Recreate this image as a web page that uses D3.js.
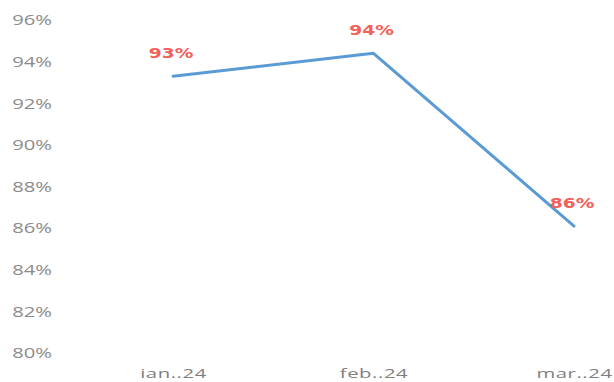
<!DOCTYPE html>
<html>
<head>
<meta charset="utf-8">
<script src="https://cdn.jsdelivr.net/npm/d3@7/dist/d3.min.js"></script>
<style>
  html, body { margin: 0; padding: 0; background: #fff; }
  svg { display: block; }
</style>
</head>
<body>
<svg id="chart" width="614" height="382"></svg>
<script>
// Monthly values (share, 0-1)
const months = ["ian..24", "feb..24", "mar..24"];
const values = [0.933, 0.944, 0.861];
const yTicks = [0.80, 0.82, 0.84, 0.86, 0.88, 0.90, 0.92, 0.94, 0.96];

const svg = d3.select("#chart");

const x = d3.scalePoint().domain(months).range([173, 574]);
const y = d3.scaleLinear().domain([0.80, 0.96]).range([353, 20]);

const pct = d3.format(".0%");

// Y axis labels only (no line, no ticks); glyphs drawn wide
const yAxis = svg.append("g")
  .attr("transform", "translate(52,0)")
  .call(d3.axisLeft(y).tickValues(yTicks).tickFormat(pct).tickSize(0).tickPadding(0));
yAxis.select(".domain").remove();
yAxis.selectAll("text")
  .attr("x", 0)
  .attr("transform", "scale(1.35,1)")
  .attr("fill", "#8c8c8c")
  .style("font-family", "'Open Sans', sans-serif")
  .style("font-size", "15px");

// X axis labels
const xAxis = svg.append("g")
  .attr("transform", "translate(0,378)")
  .call(d3.axisBottom(x).tickSize(0).tickPadding(0));
xAxis.select(".domain").remove();
xAxis.selectAll("text")
  .attr("y", 0)
  .attr("dy", 0)
  .attr("transform", "scale(1.5,1)")
  .attr("fill", "#808080")
  .style("font-family", "'Open Sans', sans-serif")
  .style("font-size", "13.5px")
  .style("letter-spacing", "0.4px");

// Series line
const line = d3.line()
  .x((d, i) => x(months[i]))
  .y(d => y(d));

svg.append("path")
  .datum(values)
  .attr("d", line)
  .attr("fill", "none")
  .attr("stroke", "#5b9bd5")
  .attr("stroke-width", 3)
  .attr("stroke-linejoin", "round")
  .attr("stroke-linecap", "round");

// Value labels above each point
svg.append("g").selectAll("g")
  .data(values)
  .join("g")
  .attr("transform", (d, i) => `translate(${x(months[i]) - 2},${y(d) - 18})`)
  .append("text")
  .attr("transform", "scale(1.33,1)")
  .attr("text-anchor", "middle")
  .attr("fill", "#f4605a")
  .style("font-family", "'DejaVu Sans', sans-serif")
  .style("font-weight", "700")
  .style("font-size", "14px")
  .text(d => pct(d));
</script>
</body>
</html>
